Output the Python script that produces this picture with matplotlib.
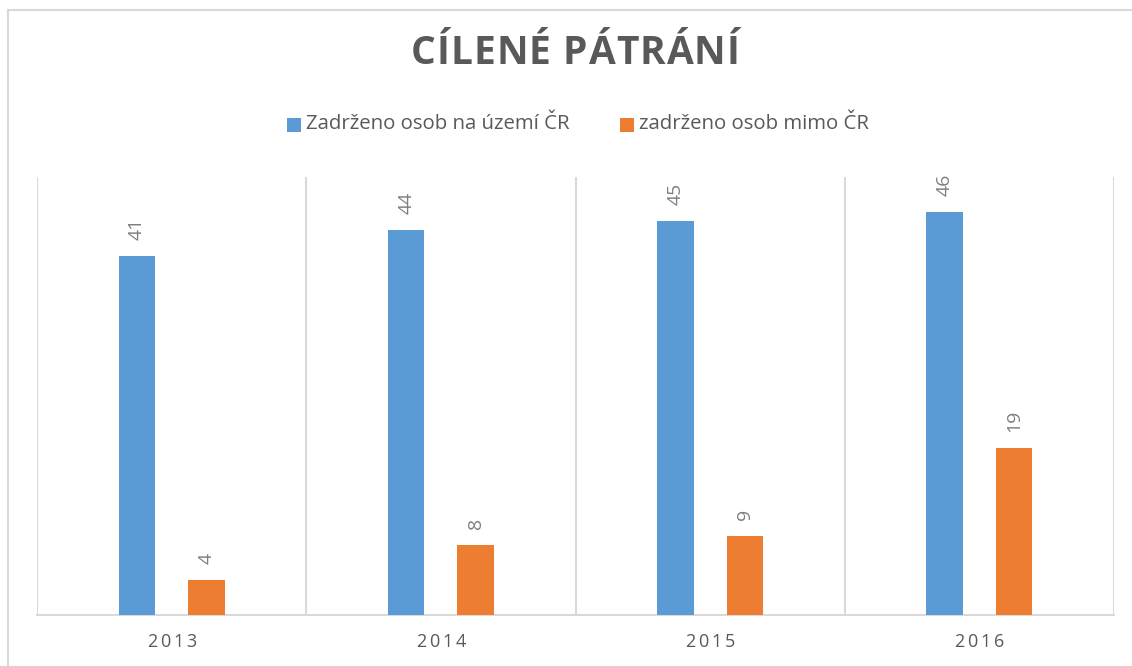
import matplotlib
matplotlib.use("Agg")
import matplotlib.pyplot as plt
from matplotlib.patches import Rectangle
from matplotlib.lines import Line2D
import numpy as np

years = ["2013", "2014", "2015", "2016"]
series_names = ["Zadrženo osob na území ČR", "zadrženo osob mimo ČR"]
within_cr = [41, 44, 45, 46]
outside_cr = [4, 8, 9, 19]
title = "CÍLENÉ PÁTRÁNÍ"

BLUE = "#5B9BD5"
ORANGE = "#ED7D31"
GRID = "#D9D9D9"
TXT = "#595959"
LBL = "#7F7F7F"

W, H = 1132, 666
DPI = 100
plt.rcParams["font.family"] = ["Open Sans", "DejaVu Sans"]
fig = plt.figure(figsize=(W / DPI, H / DPI), dpi=DPI)
fig.patch.set_facecolor("white")

def px(x, y):
    return x / W, 1 - y / H

# outer chart frame (cropped at right and bottom)
fig.add_artist(Line2D([8 / W, 1.0], [1 - 10 / H, 1 - 10 / H], transform=fig.transFigure,
                      color="#D9D9D9", lw=1.5))
fig.add_artist(Line2D([8 / W, 8 / W], [0.0, 1 - 10 / H], transform=fig.transFigure,
                      color="#D9D9D9", lw=1.5))

ax = fig.add_axes([37 / W, 1 - 614.5 / H, (1114 - 37) / W, (614.5 - 177) / H])
x = np.arange(len(years))
bw = 0.136
off = 0.129
b1 = ax.bar(x - off, within_cr, bw, color=BLUE, zorder=3)
b2 = ax.bar(x + off, outside_cr, bw, color=ORANGE, zorder=3)
ax.set_xlim(-0.5, len(years) - 0.5)
ax.set_ylim(0, 50)
ax.set_yticks([])
ax.set_xticks([])
for s in ["top", "right", "left"]:
    ax.spines[s].set_visible(False)
ax.spines["bottom"].set_color(GRID)
ax.spines["bottom"].set_linewidth(1.5)
for b in np.arange(-0.5, len(years), 1.0):
    ax.axvline(b, color=GRID, lw=1.5, zorder=1)

for bars in (b1, b2):
    for r in bars:
        v = r.get_height()
        ax.annotate(f"{v:g}", (r.get_x() + r.get_width() / 2, v), xytext=(0, 11.5),
                    textcoords="offset points", rotation=90, ha="center", va="bottom",
                    fontsize=14, color=LBL)

fig.canvas.draw()
renderer = fig.canvas.get_renderer()

def spaced_text(s, cx, cy, spacing, **kw):
    widths = []
    for ch in s:
        if ch == " ":
            t2 = fig.text(0, 0, "a a", **kw)
            t3 = fig.text(0, 0, "aa", **kw)
            w = t2.get_window_extent(renderer).width - t3.get_window_extent(renderer).width
            t2.remove(); t3.remove()
        else:
            t = fig.text(0, 0, ch, **kw)
            w = t.get_window_extent(renderer).width
            t.remove()
        widths.append(w)
    total = sum(widths) + spacing * (len(s) - 1)
    xpos = cx - total / 2
    for ch, w in zip(s, widths):
        fig.text(xpos / W, 1 - cy / H, ch, ha="left", va="center", **kw)
        xpos += w + spacing

spaced_text(title, 575, 54, 1.0, fontsize=28, fontweight="bold", color=TXT)

# x tick labels
for i, yr in enumerate(years):
    cxp = ax.transData.transform((i, 0))[0]
    spaced_text(yr, cxp, 642, 3.0, fontsize=13, color=TXT)

# legend
leg_items = [(series_names[0], BLUE, 287), (series_names[1], ORANGE, 620)]
for name, col, lx in leg_items:
    fig.patches.append(Rectangle(px(lx, 132), 14 / W, 14 / H, transform=fig.transFigure,
                                 color=col, lw=0))
    fig.text((lx + 19) / W, 1 - 124 / H, name, ha="left", va="center", fontsize=14.7, color=TXT)

fig.savefig("out.png", dpi=DPI, facecolor="white")
